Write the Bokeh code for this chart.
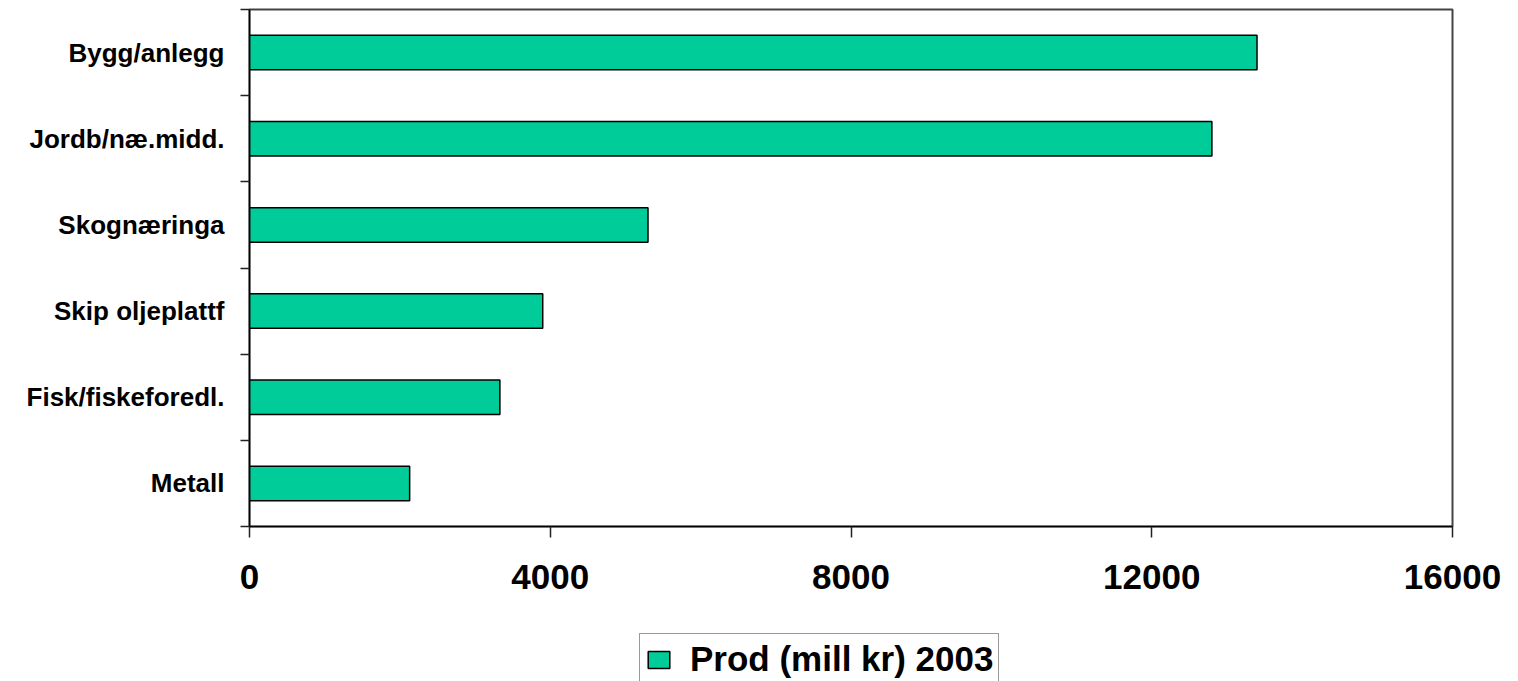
from bokeh.plotting import figure
from bokeh.layouts import column
from bokeh.models import FixedTicker, Range1d
from bokeh.embed import file_html
from bokeh.resources import INLINE

categories = ["Metall", "Fisk/fiskeforedl.", "Skip oljeplattf", "Skognæringa", "Jordb/næ.midd.", "Bygg/anlegg"]
values = [2130, 3330, 3900, 5300, 12800, 13400]
x_ticks = [0, 4000, 8000, 12000, 16000]
series_name = "Prod (mill kr) 2003"

positions = [i + 0.5 for i in range(len(categories))]
boundaries = list(range(len(categories) + 1))

FONT = "Liberation Sans"
BAR_FILL = "#00CC99"

p = figure(width=1518, height=626, output_backend="svg", toolbar_location=None,
           x_range=Range1d(0, 16000), y_range=Range1d(0, len(categories)),
           frame_width=1203, frame_height=517,
           min_border_left=249, min_border_right=66, min_border_top=9, min_border_bottom=100)

p.hbar(y=positions, right=values, left=0, height=0.4,
       fill_color=BAR_FILL, line_color="black", line_width=1.5)

p.xgrid.visible = False
p.ygrid.visible = False
p.outline_line_color = "#444444"
p.outline_line_width = 2
p.background_fill_color = "white"
p.border_fill_color = "white"

# y axis: ticks at category boundaries, labels at centers
ya = p.yaxis[0]
ya.ticker = FixedTicker(ticks=positions, minor_ticks=boundaries)
ya.major_label_overrides = {pos: cat for pos, cat in zip(positions, categories)}
ya.major_tick_out = 0
ya.major_tick_in = 0
ya.minor_tick_out = 9
ya.minor_tick_in = 0
ya.minor_tick_line_color = "#222222"
ya.minor_tick_line_width = 1.5
ya.axis_line_color = "black"
ya.axis_line_width = 1.5
ya.major_label_standoff = 16
ya.major_label_text_font = FONT
ya.major_label_text_font_style = "bold"
ya.major_label_text_font_size = "26px"
ya.major_label_text_color = "black"

xa = p.xaxis[0]
xa.ticker = FixedTicker(ticks=x_ticks, minor_ticks=[])
xa.major_tick_out = 11
xa.major_tick_in = 0
xa.major_tick_line_color = "#222222"
xa.major_tick_line_width = 1.5
xa.axis_line_color = "black"
xa.axis_line_width = 1.5
xa.major_label_standoff = 27
xa.major_label_text_font = FONT
xa.major_label_text_font_style = "bold"
xa.major_label_text_font_size = "35px"
xa.major_label_text_color = "black"

# legend strip below the chart
pl = figure(width=1518, height=55, output_backend="svg", toolbar_location=None,
            x_range=Range1d(0, 1), y_range=Range1d(0, 1),
            x_axis_location=None, y_axis_location=None,
            min_border_left=0, min_border_right=0, min_border_top=0, min_border_bottom=0)
pl.outline_line_color = None
pl.xgrid.visible = False
pl.ygrid.visible = False
pl.border_fill_color = "white"
pl.background_fill_color = "white"
proxy = pl.hbar(y=positions, right=values, left=0, height=0.4,
                fill_color=BAR_FILL, line_color="black", line_width=1.5,
                legend_label=series_name)
proxy.visible = False

lg = pl.legend[0]
lg.location = (390, -4)
lg.orientation = "horizontal"
lg.label_text_font = FONT
lg.label_text_font_style = "bold"
lg.label_text_font_size = "35px"
lg.label_text_color = "black"
lg.glyph_width = 27
lg.glyph_height = 21
lg.label_standoff = 18
lg.padding = 5
lg.margin = 0
lg.spacing = 0
lg.border_line_color = "#333333"
lg.border_line_width = 1.5
lg.background_fill_color = "white"
lg.background_fill_alpha = 1.0
lg.click_policy = "none"

layout = column(p, pl, spacing=0)

open("out.html", "w").write(file_html(layout, INLINE))
